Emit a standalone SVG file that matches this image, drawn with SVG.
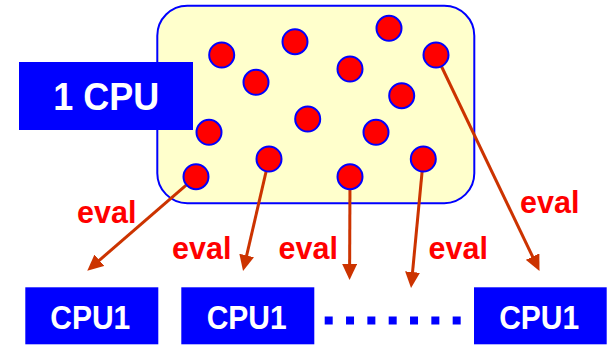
<svg xmlns="http://www.w3.org/2000/svg" width="611" height="347" viewBox="0 0 611 347">
  <style>
    .pool { fill: #FFFFCC; stroke: #0000FF; stroke-width: 2; }
    .cpu { fill: #0000FF; }
    .cpu-label { fill: #FFFFFF; font-family: "Liberation Sans", Arial, sans-serif; font-weight: bold; text-anchor: middle; }
    .task { fill: #FF0000; stroke: #0000FF; stroke-width: 2; }
    .eval { fill: #FF0000; font-family: "Liberation Sans", Arial, sans-serif; font-weight: bold; font-size: 30.5px; }
    .link { stroke: #CC3300; stroke-width: 3; fill: none; marker-end: url(#head); }
    .dots { stroke: #0000FF; stroke-width: 8; stroke-dasharray: 8 13.33; fill: none; }
  </style>
  <defs>
    <marker id="head" markerUnits="userSpaceOnUse" markerWidth="16" markerHeight="15" refX="10" refY="7.5" orient="auto">
      <path d="M0,0 L16,7.5 L0,15 Z" fill="#CC3300"/>
    </marker>
  </defs>

  <!-- task pool -->
  <g id="pool">
    <rect class="pool" x="157.3" y="5.7" width="317" height="197.5" rx="30" ry="30"/>
  </g>

  <!-- single CPU -->
  <g id="cpu-single">
    <rect class="cpu" x="19" y="62" width="174" height="68"/>
    <text class="cpu-label" x="106.3" y="109.5" font-size="38.5" textLength="106" lengthAdjust="spacingAndGlyphs">1 CPU</text>
  </g>

  <!-- eval connectors -->
  <g id="connectors">
    <line class="link" x1="196" y1="176.7" x2="91.8" y2="266.8"/>
    <line class="link" x1="269" y1="159" x2="244.4" y2="265.2"/>
    <line class="link" x1="350" y1="176.7" x2="349.6" y2="274"/>
    <line class="link" x1="423.3" y1="159" x2="411.6" y2="282"/>
    <line class="link" x1="436" y1="55" x2="536.9" y2="265.6"/>
  </g>

  <!-- tasks -->
  <g id="tasks">
    <circle class="task" cx="221.7" cy="55" r="12.5"/>
    <circle class="task" cx="295" cy="41.7" r="12.5"/>
    <circle class="task" cx="389" cy="28.3" r="12.5"/>
    <circle class="task" cx="436" cy="55" r="12.5"/>
    <circle class="task" cx="256" cy="82.3" r="12.5"/>
    <circle class="task" cx="350" cy="69" r="12.5"/>
    <circle class="task" cx="401.7" cy="95.7" r="12.5"/>
    <circle class="task" cx="307.7" cy="119" r="12.5"/>
    <circle class="task" cx="209" cy="132.3" r="12.5"/>
    <circle class="task" cx="376" cy="132.3" r="12.5"/>
    <circle class="task" cx="269" cy="159" r="12.5"/>
    <circle class="task" cx="423.3" cy="159" r="12.5"/>
    <circle class="task" cx="196" cy="176.7" r="12.5"/>
    <circle class="task" cx="350" cy="176.7" r="12.5"/>
  </g>

  <!-- eval labels -->
  <g id="labels">
    <text class="eval" x="77" y="223.2">eval</text>
    <text class="eval" x="172" y="258.8">eval</text>
    <text class="eval" x="278.5" y="258.8">eval</text>
    <text class="eval" x="428.5" y="258.8">eval</text>
    <text class="eval" x="520" y="213.2">eval</text>
  </g>

  <!-- worker CPUs -->
  <g id="cpu-1">
    <rect class="cpu" x="25.3" y="287.3" width="133" height="57"/>
    <text class="cpu-label" x="90.3" y="329.3" font-size="33" textLength="80" lengthAdjust="spacingAndGlyphs">CPU1</text>
  </g>
  <g id="cpu-2">
    <rect class="cpu" x="181.3" y="287.3" width="133" height="57"/>
    <text class="cpu-label" x="246.7" y="329.3" font-size="33" textLength="80" lengthAdjust="spacingAndGlyphs">CPU1</text>
  </g>
  <g id="cpu-n">
    <rect class="cpu" x="474" y="287.3" width="132.7" height="57"/>
    <text class="cpu-label" x="539.2" y="329.3" font-size="33" textLength="80" lengthAdjust="spacingAndGlyphs">CPU1</text>
  </g>

  <!-- ellipsis between workers -->
  <g id="ellipsis">
    <line class="dots" x1="324.7" y1="320.5" x2="461" y2="320.5"/>
  </g>
</svg>
